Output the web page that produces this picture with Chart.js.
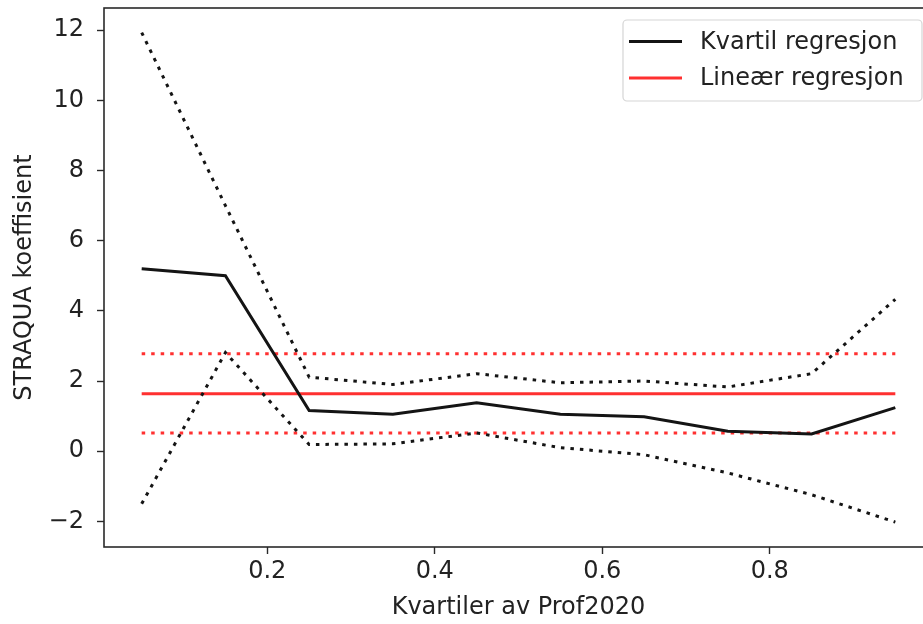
<!DOCTYPE html>
<html>
<head>
<meta charset="utf-8">
<script src="https://cdn.jsdelivr.net/npm/chart.js@4.4.1/dist/chart.umd.min.js"></script>
<style>
  html, body { margin: 0; padding: 0; background: #fff; overflow: hidden; }
  #wrap { width: 935px; height: 624px; }
</style>
</head>
<body>
<div id="wrap"><canvas id="c" width="935" height="624"></canvas></div>
<script>
// Quantiles of Prof2020 at which the regression was estimated
const quantiles = [0.05, 0.15, 0.25, 0.35, 0.45, 0.55, 0.65, 0.75, 0.85, 0.95];
// Quantile regression coefficient for STRAQUA and its confidence bounds
const qrCoef  = [5.20, 5.00, 1.16, 1.05, 1.38, 1.05, 0.98, 0.57, 0.49, 1.24];
const qrUpper = [11.93, 7.00, 2.11, 1.90, 2.21, 1.95, 2.00, 1.83, 2.21, 4.33];
const qrLower = [-1.50, 2.81, 0.19, 0.21, 0.52, 0.10, -0.10, -0.62, -1.24, -2.02];
// OLS coefficient and its confidence bounds
const olsCoef = 1.64;
const olsUpper = 2.78;
const olsLower = 0.52;
// Axis ticks
const xTicks = [0.2, 0.4, 0.6, 0.8];
const yTicks = [-2, 0, 2, 4, 6, 8, 10, 12];

const FONT = "'DejaVu Sans', sans-serif";
const TEXT = '#222';
const BLACK = '#141414';
const RED = '#ff3030';
const DOT = [3.5, 6];

const pts = (vals) => quantiles.map((q, i) => ({ x: q, y: vals[i] }));
const flat = (v) => quantiles.map(q => ({ x: q, y: v }));

const datasets = [
  { label: 'Kvartil regresjon', data: pts(qrCoef), borderColor: BLACK },
  { label: 'upper', data: pts(qrUpper), borderColor: BLACK, borderDash: DOT },
  { label: 'lower', data: pts(qrLower), borderColor: BLACK, borderDash: DOT },
  { label: 'Lineær regresjon', data: flat(olsCoef), borderColor: RED },
  { label: 'ols upper', data: flat(olsUpper), borderColor: RED, borderDash: DOT },
  { label: 'ols lower', data: flat(olsLower), borderColor: RED, borderDash: DOT }
].map(d => Object.assign({ pointRadius: 0, fill: false, tension: 0, borderWidth: 3, borderCapStyle: 'butt' }, d));

// Frame around the plot area plus the boxed legend in the upper right
const framePlugin = {
  id: 'frameAndLegend',
  afterDatasetsDraw(chart) {
    const { ctx, chartArea: a } = chart;
    ctx.save();
    ctx.strokeStyle = '#2a2a2a';
    ctx.lineWidth = 1.6;
    ctx.strokeRect(a.left, a.top, a.right - a.left, a.bottom - a.top);

    // legend
    const bx = 623, by = 20, bw = 299, bh = 81, r = 4;
    ctx.beginPath();
    ctx.moveTo(bx + r, by);
    ctx.arcTo(bx + bw, by, bx + bw, by + bh, r);
    ctx.arcTo(bx + bw, by + bh, bx, by + bh, r);
    ctx.arcTo(bx, by + bh, bx, by, r);
    ctx.arcTo(bx, by, bx + bw, by, r);
    ctx.closePath();
    ctx.fillStyle = 'rgba(255,255,255,0.8)';
    ctx.fill();
    ctx.strokeStyle = '#d5d5d5';
    ctx.lineWidth = 1.2;
    ctx.stroke();

    const entries = chart.data.datasets.filter(d => d.label === 'Kvartil regresjon' || d.label === 'Lineær regresjon');
    entries.forEach((d, i) => {
      const y = 41.5 + i * 36.5;
      ctx.beginPath();
      ctx.strokeStyle = d.borderColor;
      ctx.lineWidth = 3;
      ctx.moveTo(629, y);
      ctx.lineTo(682, y);
      ctx.stroke();
      ctx.fillStyle = TEXT;
      ctx.font = '24px ' + FONT;
      ctx.textBaseline = 'middle';
      ctx.textAlign = 'left';
      ctx.fillText(d.label, 700, y + 1);
    });
    ctx.restore();
  }
};

new Chart(document.getElementById('c'), {
  type: 'line',
  data: { datasets },
  options: {
    responsive: false,
    animation: false,
    layout: { padding: { top: 8, right: 2, left: 0, bottom: 0 } },
    plugins: { legend: { display: false }, tooltip: { enabled: false } },
    scales: {
      x: {
        type: 'linear',
        min: 0.005,
        max: 0.995,
        afterBuildTicks: (s) => { s.ticks = xTicks.map(v => ({ value: v })); },
        afterFit: (s) => { s.height = 77; s.paddingLeft = 0; s.paddingRight = 0; },
        border: { display: false },
        grid: { drawOnChartArea: false, tickLength: 7, color: '#2a2a2a', tickWidth: 1.4 },
        ticks: {
          color: TEXT, font: { family: FONT, size: 24 }, padding: 3, maxRotation: 0,
          callback: (v) => v.toFixed(1)
        },
        title: {
          display: true, text: 'Kvartiler av Prof2020', color: TEXT,
          font: { family: FONT, size: 24 }, padding: { top: 0, bottom: 2 }
        }
      },
      y: {
        type: 'linear',
        min: -2.73,
        max: 12.63,
        afterBuildTicks: (s) => { s.ticks = yTicks.map(v => ({ value: v })); },
        afterFit: (s) => { s.width = 104; s.paddingTop = 0; s.paddingBottom = 0; },
        border: { display: false },
        grid: { drawOnChartArea: false, tickLength: 7, color: '#2a2a2a', tickWidth: 1.4 },
        ticks: {
          color: TEXT, font: { family: FONT, size: 24 }, padding: 13,
          callback: (v) => (v < 0 ? '\u2212' + Math.abs(v) : String(v))
        },
        title: {
          display: true, text: 'STRAQUA koeffisient', color: TEXT,
          font: { family: FONT, size: 24 }, padding: { top: 10, bottom: 2 }
        }
      }
    }
  },
  plugins: [framePlugin]
});
</script>
</body>
</html>
